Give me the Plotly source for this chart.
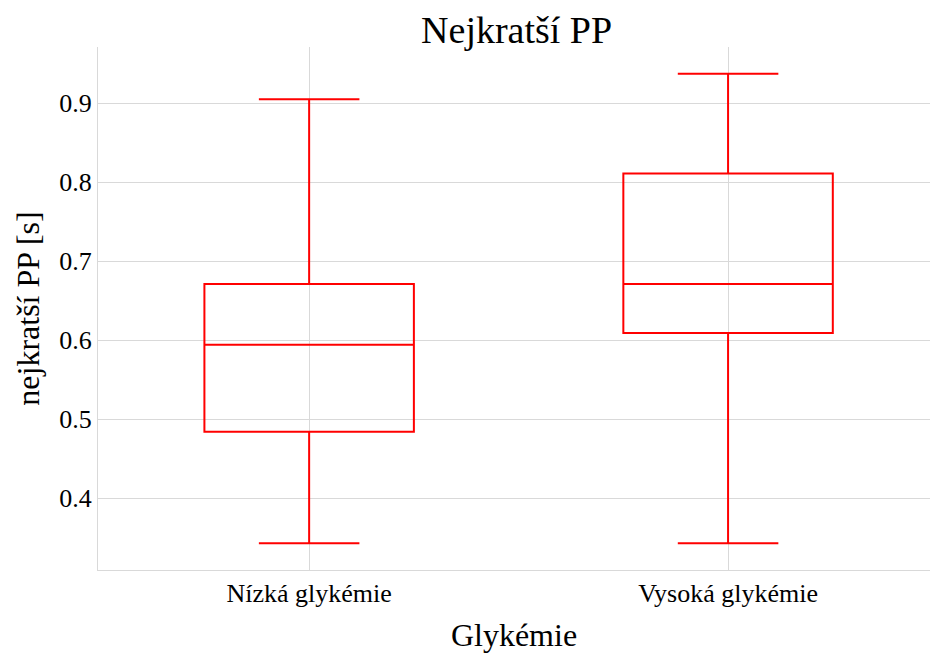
import plotly.graph_objects as go

categories = ["Nízká glykémie", "Vysoká glykémie"]
lower_whisker = [0.343, 0.343]
q1_vals = [0.484, 0.609]
median_vals = [0.594, 0.671]
q3_vals = [0.671, 0.811]
upper_whisker = [0.905, 0.937]
y_ticks = [0.4, 0.5, 0.6, 0.7, 0.8, 0.9]
y_tick_labels = ["0.4", "0.5", "0.6", "0.7", "0.8", "0.9"]

FAM = "Times New Roman, Liberation Serif, serif"

fig = go.Figure()
fig.add_trace(go.Box(
    x=categories,
    q1=q1_vals, median=median_vals, q3=q3_vals,
    lowerfence=lower_whisker, upperfence=upper_whisker,
    line=dict(color="red", width=2),
    fillcolor="rgba(255,255,255,0)",
    whiskerwidth=0.48,
    width=0.5,
    boxpoints=False,
    showlegend=False,
))

fig.update_layout(
    width=930, height=655,
    margin=dict(l=98, r=0, t=47, b=85, autoexpand=False),
    plot_bgcolor="white", paper_bgcolor="white",
    font=dict(family=FAM, color="black", size=26),
    title=dict(text="Nejkratší PP", x=0.5555, xanchor="center",
               y=1 - 30 / 655, yanchor="middle", yref="container",
               font=dict(size=38, family=FAM, color="black")),
    xaxis=dict(
        title=dict(text="Glykémie", font=dict(size=32, family=FAM, color="black"), standoff=16),
        tickfont=dict(size=26, family=FAM, color="black"),
        showgrid=True, gridcolor="#d9d9d9",
        showline=True, linecolor="#d9d9d9", linewidth=1,
        range=[-0.504, 1.482],
        ticks="", ticklen=3, automargin=False,
    ),
    yaxis=dict(
        title=dict(text="nejkratší PP [s]", font=dict(size=32, family=FAM, color="black"), standoff=10),
        tickfont=dict(size=26, family=FAM, color="black"),
        showgrid=True, gridcolor="#d9d9d9",
        showline=True, linecolor="#d9d9d9", linewidth=1,
        range=[0.309, 0.971],
        tickvals=y_ticks,
        ticktext=y_tick_labels,
        zeroline=False,
        ticks="", automargin=False,
    ),
)

fig.write_html("out.html",
               config={"displayModeBar": False},
               post_script="document.body.style.margin='0';document.body.style.overflow='hidden';")
